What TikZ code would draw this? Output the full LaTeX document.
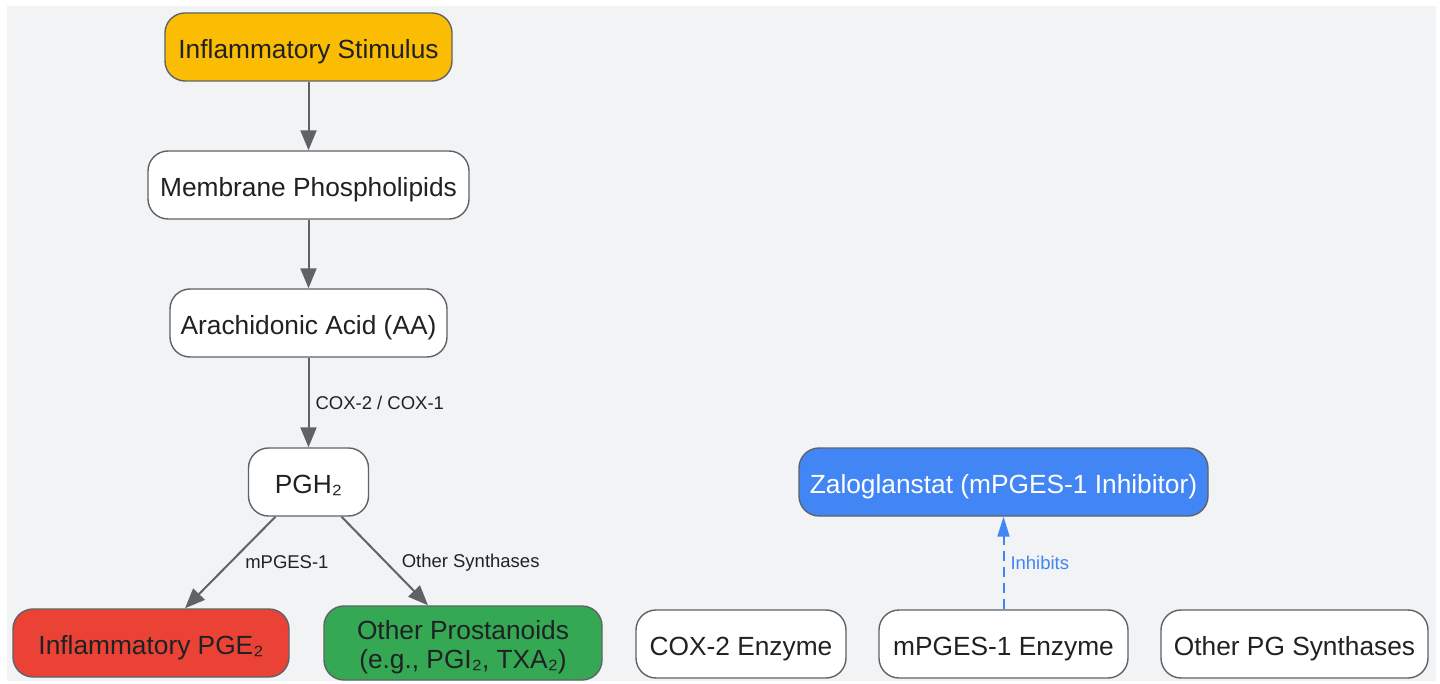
\documentclass[tikz,border=0pt]{standalone}
\usepackage{fontspec}
\setmainfont{Liberation Sans}
\usetikzlibrary{arrows.meta}
\definecolor{bggray}{HTML}{F1F3F4}
\definecolor{edgegray}{HTML}{5F6368}
\definecolor{txtgray}{HTML}{202124}
\definecolor{gyellow}{HTML}{FBBC04}
\definecolor{gred}{HTML}{EA4335}
\definecolor{ggreen}{HTML}{34A853}
\definecolor{gblue}{HTML}{4285F4}
\tikzset{
  box/.style={draw=edgegray, line width=1.4pt, fill=white, rounded corners=20pt,
    minimum height=68pt, inner sep=0pt, text=txtgray, align=center,
    text height=28pt, text depth=5.5pt,
    font=\fontsize{26.3}{29}\selectfont},
  flow/.style={draw=edgegray, line width=2pt, -{Triangle[length=20pt,width=16pt]}},
  inhib/.style={draw=gblue, line width=2pt, dash pattern=on 10pt off 6pt,
    -{Triangle[length=20pt,width=12pt]}},
  lbl/.style={font=\fontsize{18.5}{21}\selectfont, text=txtgray, anchor=west, inner sep=0pt}
}
\begin{document}
\begin{tikzpicture}[x=1pt,y=-1pt]
    \useasboundingbox (0,0) rectangle (1440,684);
    \fill[bggray] (7,6) rectangle (1436,681);%background panel
    % pathway on the left
    \node[box, fill=gyellow, minimum width=287pt] (stim) at (308.5,47) {Inflammatory Stimulus};
    \node[box, minimum width=321pt] (mem) at (308.5,185) {Membrane Phospholipids};
    \node[box, minimum width=277pt] (aa) at (308.5,323) {Arachidonic Acid (AA)};
    \node[box, minimum width=120pt] (pgh) at (308.5,482) {PGH₂};
    \node[box, fill=gred, minimum width=276pt] (pge) at (151,643) {Inflammatory PGE₂};
    \node[box, fill=ggreen, minimum width=278pt, minimum height=74pt, text height={}, text depth={}] (oth) at (463,643) {\rule{0pt}{27pt}Other Prostanoids\\(e.g., PGI₂, TXA₂)};
    % drug and enzymes on the right
    \node[box, fill=gblue, text=white, minimum width=409pt] (zalo) at (1003.5,482) {Zaloglanstat (mPGES-1 Inhibitor)};
    \node[box, minimum width=210pt] (cox) at (741,644) {COX-2 Enzyme};
    \node[box, minimum width=249pt] (mpges) at (1003.5,644) {mPGES-1 Enzyme};
    \node[box, minimum width=267pt] (pgs) at (1294.5,644) {Other PG Synthases};
    % connectors
    \draw[flow] (stim) -- (mem);
    \draw[flow] (mem) -- (aa);
    \draw[flow] (aa) -- (pgh) node[lbl, midway, xshift=6pt] {COX-2 / COX-1};
    \draw[flow] ([xshift=-33pt]pgh.south) -- ([xshift=34pt]pge.north) node[lbl, midway, xshift=14pt] {mPGES-1};
    \draw[flow] ([xshift=33pt]pgh.south) -- ([xshift=-35pt]oth.north) node[lbl, midway, xshift=16pt, yshift=-2pt] {Other Synthases};
    \draw[inhib] (mpges) -- (zalo) node[lbl, midway, xshift=6pt, text=gblue] {Inhibits};
\end{tikzpicture}
\end{document}
